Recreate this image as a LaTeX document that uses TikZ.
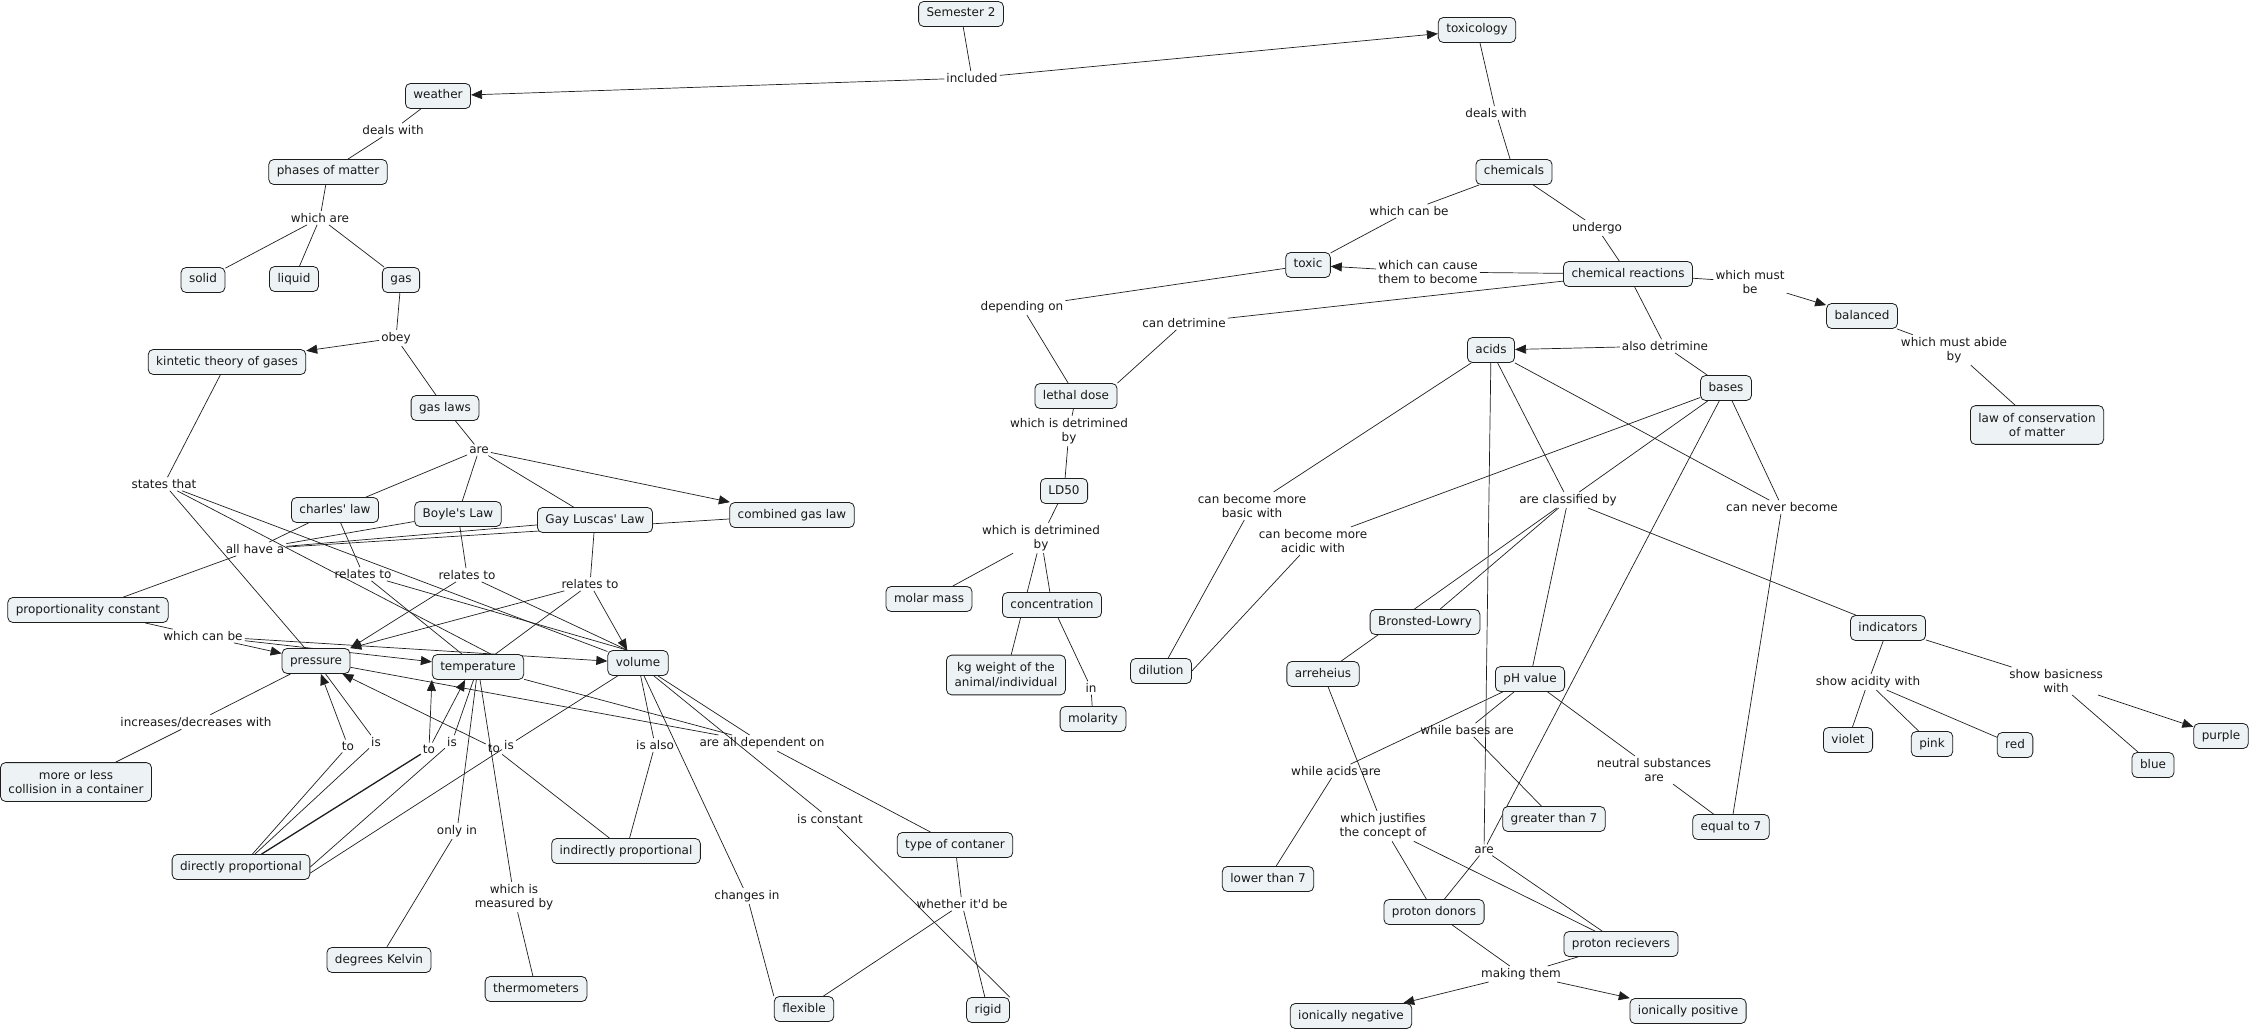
\documentclass[tikz,border=0pt]{standalone}
\usepackage{fontspec}
\setmainfont{DejaVu Sans}
\usetikzlibrary{arrows.meta}
\pgfdeclarelayer{edges}
\pgfsetlayers{edges,main}
\definecolor{cfill}{RGB}{237,243,245}
\definecolor{cline}{RGB}{30,30,30}
\newcommand{\apos}{\textquotesingle}
\begin{document}
\begin{tikzpicture}[x=1pt,y=-1pt,
  concept/.style={draw=cline, fill=cfill, rounded corners=5pt, line width=0.8pt, inner xsep=8pt, inner ysep=6.5pt, text height=9pt, text depth=3pt, font=\fontsize{12}{14.5}\selectfont, text=black!90},
  concepttwo/.style={draw=cline, fill=cfill, rounded corners=5pt, line width=0.8pt, inner xsep=8pt, inner ysep=7.5pt, align=center, font=\fontsize{12}{14.5}\selectfont, text=black!90},
  lbl/.style={inner sep=2pt, align=center, font=\fontsize{12}{14.5}\selectfont, text=black!90},
  con/.style={draw=cline, line width=0.7pt},
  arr/.style={con, -{Triangle[length=11pt,width=9pt]}},
]
\useasboundingbox (0,0) rectangle (2250,1032);
% ---------- concepts ----------
\node[concept] (semester) at (961,14) {Semester 2};
\node[concept] (toxicology) at (1477,30) {toxicology};
\node[concept] (weather) at (438,96) {weather};
\node[concept] (phases) at (328,172) {phases of matter};
\node[concept] (solid) at (203,280) {solid};
\node[concept] (liquid) at (294,279) {liquid};
\node[concept] (gas) at (401,280) {gas};
\node[concept] (kinetic) at (227,362) {kintetic theory of gases};
\node[concept] (gaslaws) at (445,408) {gas laws};
\node[concept] (charles) at (335,510) {charles\apos{} law};
\node[concept] (boyle) at (458,514) {Boyle\apos{}s Law};
\node[concept] (gay) at (595,520) {Gay Luscas\apos{} Law};
\node[concept] (combined) at (792,515) {combined gas law};
\node[concept] (propconst) at (88,610) {proportionality constant};
\node[concept] (pressure) at (316,661) {pressure};
\node[concept] (temperature) at (478,667) {temperature};
\node[concept] (volume) at (638,663) {volume};
\node[concepttwo] (collision) at (76,782) {more or less\\collision in a container};
\node[concept] (dirprop) at (241,867) {directly proportional};
\node[concept] (indprop) at (626,851) {indirectly proportional};
\node[concept] (kelvin) at (379,960) {degrees Kelvin};
\node[concept] (thermo) at (536,989) {thermometers};
\node[concept] (container) at (955,845) {type of contaner};
\node[concept] (flexible) at (804,1009) {flexible};
\node[concept] (rigid) at (988,1010) {rigid};
\node[concept] (chemicals) at (1514,172) {chemicals};
\node[concept] (toxic) at (1308,265) {toxic};
\node[concept] (chemreact) at (1628,274) {chemical reactions};
\node[concept] (balanced) at (1862,316) {balanced};
\node[concepttwo] (lawcons) at (2037,425) {law of conservation\\of matter};
\node[concept] (lethal) at (1076,396) {lethal dose};
\node[concept] (ldfifty) at (1064,491) {LD50};
\node[concept] (molar) at (929,599) {molar mass};
\node[concept] (concentration) at (1052,605) {concentration};
\node[concepttwo] (kg) at (1006,675) {kg weight of the\\animal/individual};
\node[concept] (molarity) at (1093,719) {molarity};
\node[concept] (acids) at (1491,350) {acids};
\node[concept] (bases) at (1726,388) {bases};
\node[concept] (bronsted) at (1425,622) {Bronsted-Lowry};
\node[concept] (dilution) at (1161,671) {dilution};
\node[concept] (arreheius) at (1323,674) {arreheius};
\node[concept] (ph) at (1530,679) {pH value};
\node[concept] (indicators) at (1888,628) {indicators};
\node[concept] (violet) at (1848,740) {violet};
\node[concept] (pink) at (1932,744) {pink};
\node[concept] (red) at (2015,745) {red};
\node[concept] (blue) at (2153,765) {blue};
\node[concept] (purple) at (2221,736) {purple};
\node[concept] (equalseven) at (1731,827) {equal to 7};
\node[concept] (greaterseven) at (1554,819) {greater than 7};
\node[concept] (lowerseven) at (1268,879) {lower than 7};
\node[concept] (donors) at (1434,912) {proton donors};
\node[concept] (recievers) at (1621,944) {proton recievers};
\node[concept] (ionneg) at (1351,1016) {ionically negative};
\node[concept] (ionpos) at (1688,1011) {ionically positive};
% ---------- linking phrases ----------
\node[lbl] (included) at (972,78) {included};
\node[lbl] (dealswithA) at (393,130) {deals with};
\node[lbl] (whichare) at (320,218) {which are};
\node[lbl] (obey) at (396,338) {obey};
\node[lbl] (statesthat) at (164,484) {states that};
\node[lbl] (areA) at (479,450) {are};
\node[lbl] (allhavea) at (255,549) {all have a};
\node[lbl] (reltoA) at (363,574) {relates to};
\node[lbl] (reltoB) at (467,575) {relates to};
\node[lbl] (reltoC) at (590,584) {relates to};
\node[lbl] (whichcanbeB) at (203,636) {which can be};
\node[lbl] (incdec) at (196,722) {increases/decreases with};
\node[lbl] (toA) at (348,746) {to};
\node[lbl] (isA) at (376,742) {is};
\node[lbl] (toB) at (429,749) {to};
\node[lbl] (isB) at (452,742) {is};
\node[lbl] (toC) at (494,748) {to};
\node[lbl] (isC) at (509,745) {is};
\node[lbl] (onlyin) at (457,831) {only in};
\node[lbl] (measured) at (514,897) {which is\\measured by};
\node[lbl] (isalso) at (655,745) {is also};
\node[lbl] (alldep) at (762,743) {are all dependent on};
\node[lbl] (isconst) at (830,819) {is constant};
\node[lbl] (changesin) at (747,896) {changes in};
\node[lbl] (whether) at (962,904) {whether it\apos{}d be};
\node[lbl] (dealswithB) at (1496,113) {deals with};
\node[lbl] (whichcanbeA) at (1409,211) {which can be};
\node[lbl] (undergo) at (1597,228) {undergo};
\node[lbl] (cause) at (1428,272) {which can cause\\them to become};
\node[lbl] (candet) at (1184,323) {can detrimine};
\node[lbl] (depending) at (1022,307) {depending on};
\node[lbl] (mustbe) at (1750,282) {which must\\be};
\node[lbl] (abide) at (1954,350) {which must abide\\by};
\node[lbl] (alsodet) at (1665,346) {also detrimine};
\node[lbl] (detbyA) at (1069,431) {which is detrimined\\by};
\node[lbl] (detbyB) at (1041,538) {which is detrimined\\by};
\node[lbl] (inlbl) at (1091,688) {in};
\node[lbl] (basic) at (1252,506) {can become more\\basic with};
\node[lbl] (acidic) at (1313,541) {can become more\\acidic with};
\node[lbl] (classified) at (1568,500) {are classified by};
\node[lbl] (nevbecome) at (1782,507) {can never become};
\node[lbl] (acidity) at (1868,682) {show acidity with};
\node[lbl] (basicness) at (2056,681) {show basicness\\with};
\node[lbl] (whileacids) at (1336,771) {while acids are};
\node[lbl] (whilebases) at (1467,730) {while bases are};
\node[lbl] (neutral) at (1654,770) {neutral substances\\are};
\node[lbl] (justifies) at (1383,826) {which justifies\\the concept of};
\node[lbl] (areB) at (1484,850) {are};
\node[lbl] (making) at (1521,974) {making them};
% ---------- connectors ----------
\begin{pgfonlayer}{edges}
\draw[con] (semester) -- (included);
\draw[arr] (included) -- (weather);
\draw[arr] (included) -- (toxicology);
\draw[con] (weather) -- (dealswithA);
\draw[con] (dealswithA) -- (phases);
\draw[con] (phases) -- (whichare);
\draw[con] (whichare) -- (solid);
\draw[con] (whichare) -- (liquid);
\draw[con] (whichare) -- (gas);
\draw[con] (gas) -- (obey);
\draw[arr] (obey) -- (kinetic);
\draw[con] (obey) -- (gaslaws);
\draw[con] (gaslaws) -- (areA);
\draw[con] (areA) -- (charles);
\draw[con] (areA) -- (boyle);
\draw[con] (areA) -- (gay);
\draw[arr] (areA) -- (combined);
\draw[con] (kinetic) -- (statesthat);
\draw[con] (statesthat) -- (pressure);
\draw[con] (statesthat) -- (temperature.45);
\draw[con] (statesthat) -- (volume);
\draw[con] (charles) -- (allhavea);
\draw[con] (boyle) -- (allhavea);
\draw[con] (gay) -- (allhavea);
\draw[con] (allhavea) -- (combined);
\draw[con] (allhavea) -- (propconst);
\draw[con] (charles) -- (reltoA);
\draw[con] (reltoA) -- (temperature);
\draw[con] (reltoA) -- (volume.130);
\draw[con] (boyle) -- (reltoB);
\draw[arr] (reltoB) -- (pressure.north east);
\draw[con] (reltoB) -- (volume.130);
\draw[con] (gay) -- (reltoC);
\draw[arr] (reltoC) -- (pressure.north east);
\draw[con] (reltoC) -- (temperature);
\draw[arr] (reltoC) -- (volume.130);
\draw[con] (propconst) -- (whichcanbeB);
\draw[arr] (whichcanbeB) -- (pressure);
\draw[arr] (whichcanbeB) -- (temperature);
\draw[arr] (whichcanbeB) -- (volume);
\draw[con] (pressure) -- (incdec);
\draw[con] (incdec) -- (collision);
\draw[con] (pressure) -- (isA);
\draw[con] (isA) -- (dirprop);
\draw[con] (dirprop) -- (toA);
\draw[arr] (toA) -- (pressure);
\draw[con] (temperature) -- (isB);
\draw[con] (isB) -- (dirprop.east);
\draw[con, line width=1.3pt] (dirprop) -- (toB);
\draw[arr] (toB) -- (temperature.south west);
\draw[arr] (toB) -- (temperature.225);
\draw[con] (volume) -- (isC);
\draw[con] (isC) -- (dirprop.-5);
\draw[con] (indprop) -- (toC);
\draw[arr] (toC) -- (pressure);
\draw[con] (volume) -- (isalso);
\draw[con] (isalso) -- (indprop);
\draw[con] (temperature) -- (onlyin);
\draw[con] (onlyin) -- (kelvin);
\draw[con] (temperature) -- (measured);
\draw[con] (measured) -- (thermo);
\draw[con] (pressure) -- (alldep);
\draw[con] (temperature) -- (alldep);
\draw[con] (volume) -- (alldep);
\draw[con] (alldep) -- (container);
\draw[con] (volume) -- (changesin);
\draw[con] (changesin) -- (flexible.north west);
\draw[con] (volume) -- (isconst);
\draw[con] (isconst) -- (rigid.north east);
\draw[con] (container) -- (whether);
\draw[con] (whether) -- (flexible);
\draw[con] (whether) -- (rigid);
\draw[con] (toxicology) -- (dealswithB);
\draw[con] (dealswithB) -- (chemicals);
\draw[con] (chemicals) -- (whichcanbeA);
\draw[con] (whichcanbeA) -- (toxic);
\draw[con] (chemicals) -- (undergo);
\draw[con] (undergo) -- (chemreact);
\draw[con] (chemreact) -- (cause);
\draw[arr] (cause) -- (toxic);
\draw[con] (chemreact) -- (candet);
\draw[con] (candet) -- (lethal.north east);
\draw[con] (toxic) -- (depending);
\draw[con] (depending) -- (lethal);
\draw[con] (chemreact) -- (mustbe);
\draw[arr] (mustbe) -- (balanced);
\draw[con] (balanced) -- (abide);
\draw[con] (abide) -- (lawcons);
\draw[con] (lethal) -- (detbyA);
\draw[con] (detbyA) -- (ldfifty);
\draw[con] (ldfifty) -- (detbyB);
\draw[con] (detbyB) -- (molar);
\draw[con] (detbyB) -- (concentration);
\draw[con] (detbyB) -- (kg);
\draw[con] (concentration) -- (inlbl);
\draw[con] (inlbl) -- (molarity);
\draw[con] (chemreact) -- (alsodet);
\draw[arr] (alsodet) -- (acids);
\draw[con] (alsodet) -- (bases);
\draw[con] (acids) -- (basic);
\draw[con] (basic) -- (dilution);
\draw[con] (bases) -- (acidic);
\draw[con] (acidic) -- (dilution.east);
\draw[con] (acids) -- (classified);
\draw[con] (bases) -- (classified);
\draw[con] (classified) -- (bronsted);
\draw[con] (classified) -- (arreheius);
\draw[con] (classified) -- (ph);
\draw[con] (classified) -- (indicators);
\draw[con] (acids) -- (nevbecome);
\draw[con] (bases) -- (nevbecome);
\draw[con] (nevbecome) -- (equalseven);
\draw[con] (arreheius) -- (justifies);
\draw[con] (justifies) -- (donors);
\draw[con] (justifies) -- (recievers);
\draw[con] (acids) -- (areB);
\draw[con] (bases) -- (areB);
\draw[con] (areB) -- (donors);
\draw[con] (areB) -- (recievers);
\draw[con] (donors) -- (making);
\draw[con] (recievers) -- (making);
\draw[arr] (making) -- (ionneg);
\draw[arr] (making) -- (ionpos);
\draw[con] (ph) -- (whileacids);
\draw[con] (whileacids) -- (lowerseven);
\draw[con] (ph) -- (whilebases);
\draw[con] (whilebases) -- (greaterseven);
\draw[con] (ph) -- (neutral);
\draw[con] (neutral) -- (equalseven);
\draw[con] (indicators) -- (acidity);
\draw[con] (acidity) -- (violet);
\draw[con] (acidity) -- (pink);
\draw[con] (acidity) -- (red);
\draw[con] (indicators) -- (basicness);
\draw[con] (basicness) -- (blue);
\draw[arr] (basicness) -- (purple);
\end{pgfonlayer}
\end{tikzpicture}
\end{document}
